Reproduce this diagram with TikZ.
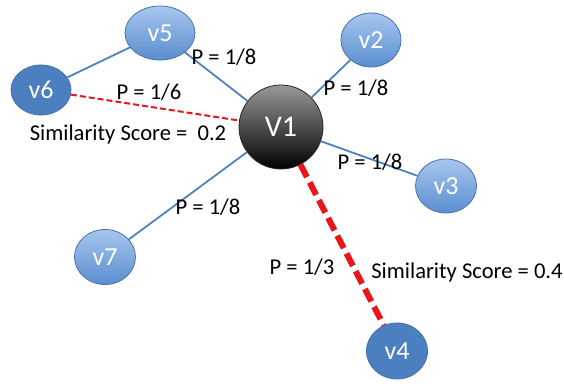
\documentclass[tikz,border=0pt]{standalone}
\usepackage{fontspec}
\setmainfont{Carlito}
\usetikzlibrary{shapes.geometric}
\definecolor{edgeblue}{HTML}{4F81BD}
\definecolor{lightblue}{HTML}{A7C6EE}
\definecolor{midblue}{HTML}{5A8ED0}
\definecolor{solidblue}{HTML}{4C7FC0}
\definecolor{redline}{HTML}{E8151B}
\begin{document}
\begin{tikzpicture}[x=1pt,y=-1pt,
  vnode/.style={ellipse, draw=edgeblue!90!black, line width=0.8pt, inner sep=0pt,
    top color=lightblue, bottom color=midblue, text=white,
    font=\fontsize{26}{30}\selectfont},
  vsel/.style={ellipse, draw=edgeblue!90!black, line width=0.8pt, inner sep=0pt,
    fill=solidblue, text=white, font=\fontsize{26}{30}\selectfont},
  hub/.style={circle, draw=black!85, line width=0.8pt, inner sep=0pt,
    minimum size=84pt, top color=black!40, bottom color=black, text=white,
    font=\fontsize{30}{34}\selectfont},
  blueedge/.style={draw=edgeblue, line width=1.8pt},
  lbl/.style={font=\fontsize{22.6}{26}\selectfont, inner sep=0pt}]
\useasboundingbox (0,0) rectangle (564,385);
\node[hub] (V1) at (281,127) {V1};
\node[vnode, minimum width=70pt, minimum height=54pt] (v5) at (160,33) {v5};
\node[vnode, minimum width=60pt, minimum height=54pt] (v2) at (371,40) {v2};
\node[vnode, minimum width=61pt, minimum height=54pt] (v3) at (446,186) {v3};
\node[vnode, minimum width=61pt, minimum height=55pt] (v7) at (105,257) {v7};
\node[vsel, minimum width=60pt, minimum height=50pt] (v6) at (41,90) {v6};
\node[vsel, minimum width=61pt, minimum height=56pt] (v4) at (397,351) {v4};
% connectors
\draw[blueedge] (v6) -- (v5);
\draw[blueedge] (v5) -- (V1);
\draw[blueedge] (v2) -- (V1);
\draw[blueedge] (v3) -- (V1);
\draw[blueedge] (v7) -- (V1);
\draw[draw=redline, line width=2pt, dash pattern=on 6pt off 3pt] (v6) -- (V1);
\draw[draw=redline, line width=6pt, dash pattern=on 14pt off 6pt] (V1) -- (v4);
% labels
\node[lbl] (l51) at (224,57) {P = 1/8};
\node[lbl] (l61) at (149,92) {P = 1/6};
\node[lbl] (s02) at (128,134) {Similarity Score =\ \ 0.2};
\node[lbl] (l21) at (356,88) {P = 1/8};
\node[lbl] (l31) at (370,162) {P = 1/8};
\node[lbl] (l71) at (208,207) {P = 1/8};
\node[lbl] (l41) at (302,267) {P = 1/3};
\node[lbl] (s04) at (467,272) {Similarity Score = 0.4};
\end{tikzpicture}
\end{document}
